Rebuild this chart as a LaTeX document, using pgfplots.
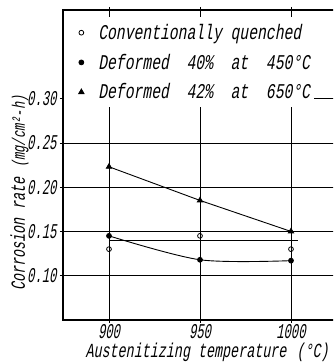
\documentclass[border=0pt]{standalone}
\usepackage{fontspec}
\usepackage{pgfplots}
\pgfplotsset{compat=1.18}
\newfontfamily\hand[FakeStretch=0.70,FakeSlant=0.18]{Liberation Mono}
\newfontfamily\labf[FakeStretch=0.67,FakeSlant=0.18]{Liberation Mono}
\newfontfamily\tickf[FakeStretch=0.58,FakeSlant=0.18]{Liberation Mono}
\begin{document}
\begin{tikzpicture}
\useasboundingbox (-63pt,-42pt) rectangle (270pt,320pt);
\clip (-63pt,-42pt) rectangle (270pt,320pt);
\begin{axis}[
  scale only axis, width=290pt, height=310pt,
  xmin=874.73, xmax=1034.07, ymin=0.05, ymax=0.40,
  axis line style={line width=1.5pt},
  grid=major, grid style={black, line width=0.6pt},
  xtick={900,950,1000}, ytick={0.10,0.15,0.20,0.25,0.30},
  tick align=outside, major tick length=3pt, tick style={black, line width=0.6pt},
  /pgf/number format/assume math mode=true,
  yticklabel style={/pgf/number format/.cd, fixed, fixed zerofill, precision=2, /tikz/.cd, font=\fontsize{21}{21}\selectfont\tickf},
  xticklabel style={/pgf/number format/.cd, set thousands separator={}, /tikz/.cd, font=\fontsize{21}{21}\selectfont\tickf, inner sep=1pt},
  xlabel={Austenitizing temperature\enspace(°C)},
  xlabel style={font=\fontsize{20}{20}\selectfont\labf, at={(axis description cs:0.497,0)}, anchor=base, yshift=-37pt, inner sep=0pt},
  ylabel={Corrosion rate\enspace{\fontsize{18}{18}\selectfont(mg/cm²-h)}},
  ylabel style={font=\fontsize{20}{20}\selectfont\labf, at={(axis description cs:-0.150,0.41)}, anchor=center},
  legend style={at={(axis description cs:0.004,0.977)}, anchor=north west, fill=white, draw=none,
    font=\fontsize{21}{21}\selectfont\hand, row sep=9pt, inner xsep=2pt, inner ysep=5pt},
  legend cell align=left,
  legend image code/.code={\path[draw=none] (0pt,0pt) -- (30pt,0pt); \draw[#1] plot[only marks] coordinates {(15pt,0pt)};},
]
\addplot[only marks, mark=o, mark size=2.4pt, line width=0.8pt, mark options={fill=white}]
  coordinates {(900,0.130) (950,0.145) (1000,0.130)};
\addlegendentry{Conventionally quenched}
\addplot[black, line width=0.9pt, smooth, mark=*, mark size=2.4pt]
  coordinates {(900,0.145) (950,0.118) (1000,0.117)};
\addlegendentry{Deformed~ 40\%~ at~ 450°C}
\addplot[black, line width=0.9pt, mark=triangle*, mark size=3pt]
  coordinates {(900,0.223) (950,0.185) (1000,0.150)};
\addlegendentry{Deformed~ 42\%~ at~ 650°C}
\addplot[black, line width=0.9pt, forget plot] coordinates {(900,0.140) (1004,0.140)};
\end{axis}
\end{tikzpicture}
\end{document}
